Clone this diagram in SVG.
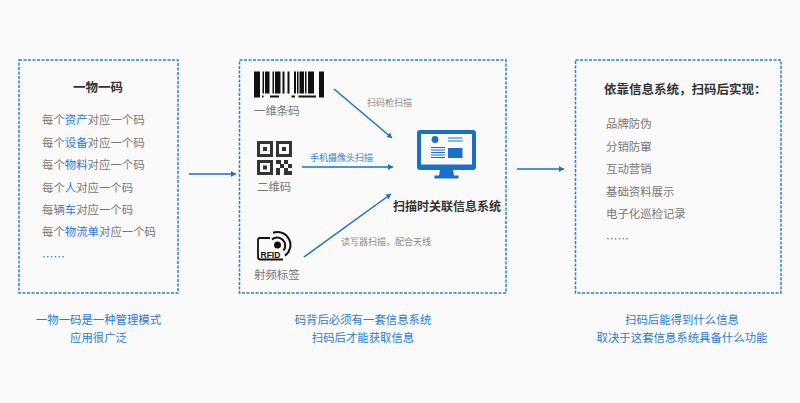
<svg xmlns="http://www.w3.org/2000/svg" width="800" height="403" viewBox="0 0 800 403">
<style>
text{font-family:"Noto Sans CJK SC","Noto Sans",sans-serif;font-size:11.4px;fill:#777}
text.b{fill:#1f78d8}
text.t{font-weight:700;fill:#333;font-size:12.500px}
.box{fill:none;stroke:#2b7fd4;stroke-width:1.5;stroke-dasharray:3 1.5}
text.foot{fill:#2b7bd0;text-anchor:middle}
text.lab{font-size:9px;fill:#888}
.c{fill:none;stroke:#1a6fc9;stroke-width:1.5;marker-end:url(#a)}
.k{fill:#111}.q{fill:#333}
</style>
<defs><marker id="a" markerUnits="userSpaceOnUse" markerWidth="6" markerHeight="6" refX="5" refY="3" orient="auto"><path d="M0 0L5 3L0 6Z" fill="#1a6fc9"/></marker></defs>
<rect width="800" height="403" fill="#fafafa"/>
<g id="connectors">
<path class="c" d="M189 174H236"/>
<path class="c" d="M334 89L392 138"/>
<path class="c" d="M302 167H393"/>
<path class="c" d="M304 257L391 194"/>
<path class="c" d="M517 169H564"/>
</g>
<g id="node-yiwuyima">
<rect class="box" x="19" y="60" width="159" height="233"/>
<text class="t" x="73" y="92">一物一码</text>
<text x="42" y="124">每个</text><text class="b" x="64.800" y="124">资产</text><text x="87.600" y="124">对应一个码</text>
<text x="42" y="146.500">每个</text><text class="b" x="64.800" y="146.500">设备</text><text x="87.600" y="146.500">对应一个码</text>
<text x="42" y="169">每个</text><text class="b" x="64.800" y="169">物料</text><text x="87.600" y="169">对应一个码</text>
<text x="42" y="191.500">每个</text><text class="b" x="64.800" y="191.500">人</text><text x="76.200" y="191.500">对应一个码</text>
<text x="42" y="214">每辆</text><text class="b" x="64.800" y="214">车</text><text x="76.200" y="214">对应一个码</text>
<text x="42" y="236">每个</text><text class="b" x="64.800" y="236">物流单</text><text x="99" y="236">对应一个码</text>
<text class="b" x="42" y="261">……</text>
<text class="foot" x="98.500" y="324">一物一码是一种管理模式</text>
<text class="foot" x="98.500" y="342">应用很广泛</text>
</g>
<g id="node-codes">
<rect class="box" x="239.500" y="60" width="266.500" height="233"/>
<g id="barcode" class="k">
<path d="M254 71.500h6v26h-6zM262.500 71.500h1.500v22h-1.500zM265 71.500h4.500v22h-4.500zM272.500 71.500h1.500v22h-1.500zM275 71.500h5.500v22h-5.500zM282.500 71.500h2v22h-2zM287.500 71.500h2v22h-2zM294 71.500h2v22h-2zM297 71.500h1.500v22h-1.500zM299.500 71.500h4.500v22h-4.500zM305 71.500h1.500v22h-1.500zM308 71.500h6v22h-6zM319 71.500h5v26h-5zM262 95.500h1.500v2h-1.500zM270 95.500h9v2h-9zM291.500 95.500h3.500v2h-3.500zM298.500 95.500h17.500v2h-17.500z"/>
</g>
<text x="254" y="115">一维条码</text>
<g id="qrcode">
<path class="q" fill-rule="evenodd" d="M257 141h16v16h-16zM260 144v10h10v-10zM263 147h4v4h-4zM276 141h16v16h-16zM279 144v10h10v-10zM282 147h4v4h-4zM257 160h16v15h-16zM260 163v9h10v-9zM263 165.500h4v4h-4z"/>
<path class="q" d="M276 160h5v4h-5zM284 160h4v4h-4zM288 164h4v4h-4zM280 164h4v4h-4zM276 168h4v7h-4zM284 168h4v3h-4zM284 171h8v4h-8z"/>
</g>
<text x="257" y="191">二维码</text>
<g id="rfid">
<path d="M270 238H260Q258 238 258 240V257Q258 259.500 260.500 259.500H283" fill="none" stroke="#111" stroke-width="1.800"/>
<circle cx="277.500" cy="245" r="3.500" fill="#111"/>
<path d="M272 239.500A8 8 0 0 1 283.500 250.500M273 232.800A13 13 0 0 1 285 255.600" fill="none" stroke="#111" stroke-width="2"/>
<text x="260.500" y="257.500" style="font-family:'Liberation Sans',sans-serif;font-size:8.500px;font-weight:700;fill:#111">RFID</text>
</g>
<text x="254" y="279">射频标签</text>
<text class="lab" x="367" y="106">扫码枪扫描</text>
<text class="lab" x="310" y="161" style="fill:#2f7fd0">手机摄像头扫描</text>
<text class="lab" x="341" y="245">读写器扫描&#xFF0C;配合天线</text>
<g id="monitor">
<path fill="#1a6fc9" fill-rule="evenodd" d="M420 130H473Q476 130 476 133V167Q476 170 473 170H453L454 175.500H458.500Q459 178 458 178.500H435Q434 178 434.500 175.500H439L440 170H420Q417 170 417 167V133Q417 130 420 130ZM421 134V164.500H472V134Z"/>
<circle cx="435" cy="139.500" r="3.400" fill="#1a6fc9"/>
<path fill="#1a6fc9" d="M448 137.500h14.500v1.100h-14.500zM448 140.500h14.500v1.100h-14.500zM431 147h14v1.100h-14zM431 149.500h14v1.100h-14zM431 152h14v1.100h-14zM431 154.500h14v1.100h-14zM431 157h14v1.100h-14zM448 148h14.500v10h-14.500z"/>
</g>
<text class="t" x="393" y="211" style="font-size:12px">扫描时关联信息系统</text>
<text class="foot" x="363" y="324">码背后必须有一套信息系统</text>
<text class="foot" x="363" y="342">扫码后才能获取信息</text>
</g>
<g id="node-result">
<rect class="box" x="575.500" y="60" width="205.500" height="233"/>
<text class="t" x="604" y="94">依靠信息系统&#xFF0C;扫码后实现&#xFF1A;</text>
<text x="606" y="128">品牌防伪</text>
<text x="606" y="150.500">分销防窜</text>
<text x="606" y="173">互动营销</text>
<text x="606" y="195.500">基础资料展示</text>
<text x="606" y="218">电子化巡检记录</text>
<text x="606" y="243">……</text>
<text class="foot" x="682" y="324">扫码后能得到什么信息</text>
<text class="foot" x="682" y="342">取决于这套信息系统具备什么功能</text>
</g>
</svg>
